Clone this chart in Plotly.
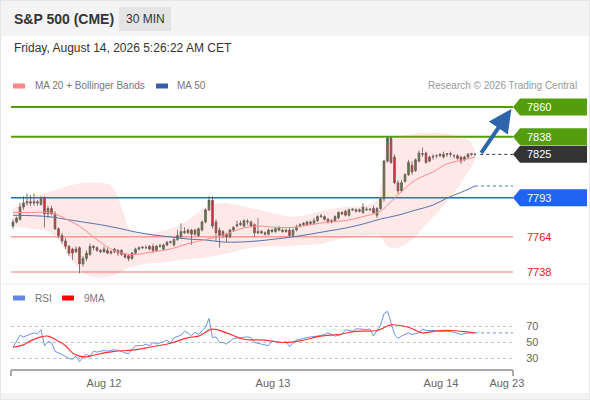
import plotly.graph_objects as go

W, H = 590, 400

# ---- 30 min bars (index 0 = first bar on screen) ----
opens = [
    7772, 7775, 7777, 7786, 7789, 7790, 7789, 7790, 7788, 7793,
    7781, 7785, 7781, 7770, 7765, 7761, 7757, 7755, 7753, 7756,
    7744, 7748, 7751, 7757, 7756, 7754, 7753, 7754, 7752, 7753,
    7752, 7754, 7751, 7750, 7748, 7752, 7755, 7756, 7756, 7755,
    7757, 7754, 7757, 7755, 7758, 7760, 7758, 7762, 7764, 7767,
    7767, 7769, 7766, 7765, 7769, 7775, 7784, 7791, 7775, 7769,
    7765, 7766, 7764, 7769, 7772, 7773, 7772, 7775, 7775, 7773,
    7767, 7768, 7767, 7766, 7769, 7768, 7771, 7769, 7768, 7769,
    7765, 7769, 7772, 7773, 7773, 7775, 7774, 7776, 7779, 7779,
    7777, 7775, 7776, 7778, 7782, 7783, 7780, 7784, 7784, 7783,
    7782, 7784, 7784, 7785, 7780, 7785, 7792, 7820, 7837, 7823,
    7804, 7798, 7805, 7810, 7817, 7813, 7820, 7825, 7826, 7823,
    7823, 7824, 7824, 7823, 7825, 7825, 7824, 7824, 7823, 7821,
    7823, 7825, 7825,
]
highs = [
    7777, 7779, 7789, 7794, 7796, 7795, 7796, 7791, 7794, 7794,
    7787, 7787, 7783, 7771, 7767, 7763, 7758, 7756, 7757, 7757,
    7750, 7754, 7759, 7758, 7757, 7755, 7757, 7756, 7754, 7756,
    7755, 7755, 7752, 7751, 7753, 7756, 7757, 7757, 7758, 7758,
    7759, 7758, 7759, 7759, 7761, 7761, 7763, 7769, 7774, 7771,
    7770, 7770, 7770, 7771, 7776, 7785, 7794, 7794, 7777, 7771,
    7769, 7767, 7770, 7772, 7776, 7776, 7777, 7777, 7776, 7774,
    7778, 7769, 7768, 7770, 7770, 7771, 7772, 7770, 7770, 7771,
    7770, 7773, 7774, 7775, 7776, 7776, 7778, 7780, 7781, 7780,
    7778, 7777, 7780, 7783, 7783, 7784, 7785, 7785, 7785, 7785,
    7789, 7786, 7785, 7787, 7786, 7793, 7821, 7838, 7838, 7825,
    7806, 7806, 7811, 7821, 7820, 7822, 7828, 7830, 7827, 7824,
    7825, 7825, 7826, 7827, 7826, 7827, 7825, 7825, 7824, 7824,
    7826, 7826, 7826,
]
lows = [
    7770, 7774, 7776, 7784, 7787, 7787, 7787, 7787, 7787, 7771,
    7778, 7780, 7769, 7763, 7759, 7755, 7750, 7747, 7752, 7737,
    7742, 7746, 7750, 7754, 7753, 7752, 7752, 7751, 7751, 7752,
    7750, 7750, 7748, 7746, 7747, 7751, 7754, 7755, 7755, 7754,
    7752, 7753, 7756, 7754, 7757, 7759, 7757, 7761, 7763, 7766,
    7766, 7758, 7765, 7764, 7768, 7774, 7783, 7770, 7761, 7756,
    7763, 7760, 7763, 7768, 7771, 7772, 7771, 7773, 7771, 7764,
    7766, 7766, 7765, 7765, 7767, 7767, 7768, 7767, 7767, 7764,
    7764, 7768, 7771, 7772, 7772, 7773, 7773, 7775, 7778, 7776,
    7774, 7774, 7775, 7777, 7780, 7779, 7779, 7783, 7782, 7782,
    7781, 7783, 7783, 7781, 7778, 7784, 7790, 7819, 7818, 7803,
    7796, 7797, 7804, 7809, 7810, 7812, 7819, 7823, 7818, 7819,
    7821, 7822, 7823, 7822, 7823, 7823, 7822, 7821, 7818, 7820,
    7822, 7824, 7824,
]
closes = [
    7775, 7778, 7786, 7789, 7790, 7789, 7790, 7789, 7793, 7781,
    7785, 7781, 7770, 7765, 7761, 7757, 7752, 7752, 7755, 7744,
    7748, 7752, 7757, 7756, 7754, 7753, 7755, 7752, 7753, 7755,
    7754, 7751, 7749, 7748, 7752, 7755, 7756, 7756.5, 7756, 7757,
    7754, 7757, 7757.5, 7758, 7760, 7760.5, 7762, 7765, 7768, 7768,
    7769, 7766, 7769, 7770, 7775, 7784, 7791, 7772, 7767, 7765,
    7768, 7764, 7769, 7771, 7773, 7774, 7776, 7775.5, 7772, 7767,
    7768, 7767, 7766, 7769, 7768, 7770, 7769, 7768, 7769, 7765,
    7769, 7771, 7773, 7774, 7775, 7774, 7776, 7779, 7779.5, 7777,
    7775, 7776, 7779, 7782, 7781, 7780, 7784, 7784.5, 7783, 7784,
    7786, 7784.5, 7784.5, 7782, 7785, 7792, 7820, 7837, 7819, 7804,
    7798, 7804, 7810, 7819, 7812, 7821, 7826, 7825.5, 7819, 7820,
    7823.5, 7824, 7825, 7825, 7825.5, 7825.5, 7824, 7822, 7820, 7823,
    7825, 7825.5, 7825,
]

# ---- indicators, read at sample bars ----
band_up_idx = [0, 5, 10, 15, 20, 25, 28, 30, 31.5, 33, 35, 40, 45, 50, 55, 60, 65, 70, 75, 80,
               85, 90, 95, 100, 104, 107, 109, 112, 117, 122, 127, 130, 132]
band_up = [7785, 7793, 7797, 7801, 7804, 7804, 7802, 7793, 7782, 7771, 7767, 7767, 7770, 7776,
           7786, 7789, 7787, 7784, 7781, 7779, 7781, 7784, 7786, 7787, 7791, 7832, 7837, 7839,
           7841, 7841, 7839, 7836, 7828]
band_lo_idx = [0, 5, 10, 13, 15, 18, 21, 25, 29, 33, 38, 43, 48, 53, 58, 63, 68, 73, 78, 83,
               88, 93, 98, 103, 105, 107, 110, 114, 118, 122, 127, 130, 132]
band_lo = [7772, 7770, 7768, 7762, 7753, 7743, 7736, 7734, 7736, 7741, 7744, 7745, 7747, 7748,
           7750, 7753, 7756, 7757, 7757, 7758, 7759, 7762, 7764, 7765, 7764, 7757, 7756, 7762,
           7773, 7784, 7800, 7812, 7821]

ma20_idx = [0, 5, 10, 13, 16, 19, 22, 25, 28, 31, 35, 40, 45, 50, 55, 60, 65, 70, 75, 80,
            85, 90, 95, 100, 105, 108, 110, 115, 120, 124, 129, 132]
ma20 = [7782, 7782, 7782, 7780, 7776, 7772, 7766, 7760, 7755, 7752, 7751, 7753, 7755, 7759,
        7762, 7765, 7770, 7772, 7771, 7771, 7773, 7775, 7776, 7779, 7783, 7790, 7795, 7806,
        7812, 7818, 7821, 7823]

ma50_idx = [0, 10, 15, 20, 25, 30, 35, 40, 45, 50, 55, 60, 65, 70, 75, 80, 85, 90, 95, 100,
            105, 110, 115, 120, 124, 129, 132]
ma50 = [7780, 7779, 7777, 7775, 7773, 7770.5, 7767.6, 7765.4, 7764, 7762.4, 7761.7, 7760.2,
        7760.2, 7761, 7762.4, 7764, 7766, 7768.3, 7770.5, 7773.5, 7777.2, 7780, 7783.8, 7787.5,
        7792.7, 7798, 7801.6]

rsi_idx = [0, 2, 3, 5, 6, 7, 8, 9, 10, 11,
           12, 14, 16, 17, 18, 19, 20, 21, 22, 23,
           24, 26, 27, 29, 31, 32, 33, 35, 37, 38,
           39, 40, 41, 43, 44, 45, 46, 48, 49, 50,
           51, 52, 53, 55, 56, 57, 58, 59, 60, 61,
           63, 65, 67, 68, 69, 71, 73, 74, 75, 77,
           78, 79, 81, 83, 85, 87, 89, 90, 91, 92,
           94, 95, 97, 98, 99, 101, 102, 103, 104, 105,
           106, 107, 108, 109, 110, 111, 113, 114, 116, 117,
           118, 120, 122, 124, 126, 128, 130, 132]
rsi = [44, 59, 57, 61, 62, 61, 66, 46, 51, 50,
       39, 35, 30, 29, 33, 26, 32, 35, 33, 39,
       38, 40, 39, 41, 39, 37, 36, 46, 46, 48,
       46, 50, 48, 51, 53, 49, 56, 59, 64, 62,
       58, 63, 60, 69, 80, 56, 57, 50, 50, 48,
       55, 56, 57, 56, 50, 48, 46, 52, 51, 50,
       51, 45, 53, 55, 57, 58, 60, 62, 60, 58,
       60, 66, 64, 67, 67, 66, 67, 58, 65, 71,
       86, 89, 75, 60, 55, 58, 62, 60, 62, 67,
       65, 65, 64, 64, 63, 60, 62, 62]

rsi_ma_idx = [0, 3, 5, 8, 10, 12, 15, 17, 19, 21, 23, 26, 29, 34, 39, 45, 50, 53, 57, 61,
              66, 72, 77, 82, 88, 93, 98, 104, 108, 113, 117, 121, 125, 130, 132]
rsi_ma = [44, 47, 52, 57, 58, 54, 46, 37, 33, 32, 34, 37, 39, 40.5, 44, 49, 56, 58, 66.6, 62,
          54, 53, 50, 52, 58, 60, 64, 65, 72, 69, 62, 64.5, 65, 63, 62]

# ---- key levels ----
levels = [7860, 7838, 7825, 7793, 7764, 7738]
level_kind = ["res", "res", "last", "pivot", "sup", "sup"]
rsi_levels = [30, 50, 70]

day_ticks = [26, 74.3, 122.3, 141.1]
day_labels = ["Aug 12", "Aug 13", "Aug 14", "Aug 23"]

# ---- layout geometry (pixels) ----
PLOT_L, PLOT_R = 11, 513
PRICE_TOP, PRICE_BOT = 92, 283
RSI_TOP, RSI_BOT = 290, 368
X_RANGE = [-0.57, 142.86]
P_RANGE = [7729.9, 7871.1]
R_RANGE = [18.1, 115.6]

FONT = "Liberation Sans, Arial, sans-serif"
GREEN = "rgb(84,158,14)"
BLUE = "rgb(30,100,240)"
DARK = "#333333"
RED_TXT = "rgb(235,20,20)"
RED_LINE = "rgb(255,160,160)"


def px(x):
    return x / W


def py(y):
    return 1 - y / H


fig = go.Figure()

# Bollinger band as one closed shape
fig.add_trace(go.Scatter(
    x=band_up_idx + band_lo_idx[::-1], y=band_up + band_lo[::-1],
    fill="toself", fillcolor="rgba(250,110,110,0.16)",
    line=dict(width=0, shape="spline", smoothing=0.8),
    mode="lines", hoverinfo="skip", showlegend=False,
))
fig.add_trace(go.Scatter(
    x=ma50_idx, y=ma50, mode="lines",
    line=dict(color="rgb(85,115,175)", width=1, shape="spline"),
    showlegend=False,
))
fig.add_trace(go.Scatter(
    x=[ma50_idx[-1], X_RANGE[1]], y=[ma50[-1], ma50[-1]], mode="lines",
    line=dict(color="rgb(85,115,175)", width=1, dash="dot"),
    showlegend=False,
))
fig.add_trace(go.Scatter(
    x=ma20_idx, y=ma20, mode="lines",
    line=dict(color="rgb(255,140,140)", width=1, shape="spline"),
    showlegend=False,
))

bars = list(range(len(closes)))
fig.add_trace(go.Candlestick(
    x=bars, open=opens, high=highs, low=lows, close=closes,
    increasing=dict(fillcolor="rgb(46,135,46)", line=dict(color="#555555", width=0.8)),
    decreasing=dict(fillcolor="rgb(215,35,35)", line=dict(color="#555555", width=0.8)),
    whiskerwidth=0, showlegend=False,
))
fig.add_trace(go.Scatter(
    x=[bars[-1] + 1.5, X_RANGE[1]], y=[closes[-1], closes[-1]], mode="lines",
    line=dict(color=DARK, width=1, dash="dot"), showlegend=False,
))

# RSI pane
fig.add_trace(go.Scatter(
    x=rsi_idx, y=rsi, mode="lines", yaxis="y2",
    line=dict(color="rgb(110,145,235)", width=1), showlegend=False,
))
fig.add_trace(go.Scatter(
    x=[rsi_idx[-1], X_RANGE[1]], y=[rsi[-1], rsi[-1]], mode="lines", yaxis="y2",
    line=dict(color="rgb(110,145,235)", width=1, dash="dot"), showlegend=False,
))
fig.add_trace(go.Scatter(
    x=rsi_ma_idx, y=rsi_ma, mode="lines", yaxis="y2",
    line=dict(color="rgb(255,50,50)", width=1.2, shape="spline"), showlegend=False,
))

shapes = []
annotations = []

# header band and frame
shapes.append(dict(type="rect", xref="paper", yref="paper", x0=0, x1=1, y0=py(36), y1=1,
                   fillcolor="#f4f4f4", line_width=0, layer="below"))
shapes.append(dict(type="rect", xref="paper", yref="paper", x0=px(119), x1=px(171),
                   y0=py(31), y1=py(7), fillcolor="#e4e4e4", line_width=0, layer="below"))
shapes.append(dict(type="rect", xref="paper", yref="paper", x0=0, x1=1, y0=0, y1=py(393),
                   fillcolor="#f3f3f3", line_width=0, layer="below"))
shapes.append(dict(type="rect", xref="paper", yref="paper", x0=0, x1=1, y0=0, y1=1,
                   line=dict(color="#e6e6e6", width=2)))
shapes.append(dict(type="line", xref="paper", yref="paper", x0=0, x1=1, y0=py(284), y1=py(284),
                   line=dict(color="#ececec", width=1)))

# x-axis line with end caps
for xc in (PLOT_L, PLOT_R):
    shapes.append(dict(type="line", xref="paper", yref="paper", x0=px(xc), x1=px(xc),
                       y0=py(370), y1=py(376), line=dict(color="#aaaaaa", width=2)))

# key levels and their right-hand labels
half = 8.5 * (P_RANGE[1] - P_RANGE[0]) / (PRICE_BOT - PRICE_TOP)
kind_color = {"res": GREEN, "last": DARK, "pivot": BLUE, "sup": RED_LINE}
for lv, kind in zip(levels, level_kind):
    if kind != "last":
        shapes.append(dict(type="line", xref="paper", yref="y", x0=px(PLOT_L), x1=px(PLOT_R),
                           y0=lv, y1=lv, layer="below",
                           line=dict(color=kind_color[kind], width=2 if kind == "res" else 1.5)))
    if kind == "sup":
        annotations.append(dict(xref="paper", yref="y", x=px(525), y=lv, text=str(lv),
                                showarrow=False, xanchor="left", yanchor="middle",
                                font=dict(family=FONT, size=11, color=RED_TXT)))
        continue
    x0, xt, x1 = px(PLOT_R), px(PLOT_R + 7), px(587)
    shapes.append(dict(type="path", xref="paper", yref="y",
                       path=f"M {x0},{lv} L {xt},{lv + half} L {x1},{lv + half} "
                            f"L {x1},{lv - half} L {xt},{lv - half} Z",
                       fillcolor=kind_color[kind], line_width=0))
    annotations.append(dict(xref="paper", yref="y", x=px(525), y=lv, text=str(lv),
                            showarrow=False, xanchor="left", yanchor="middle",
                            font=dict(family=FONT, size=11, color="white")))

# forecast arrow
annotations.append(dict(x=142.4, y=7858.5, ax=bars[-1] + 1.5, ay=closes[-1], xref="x", yref="y",
                        axref="x", ayref="y", showarrow=True, arrowhead=2, arrowsize=1.15,
                        arrowwidth=4, arrowcolor="rgb(45,100,170)", text=""))

# header texts
annotations += [
    dict(xref="paper", yref="paper", x=px(12), y=py(19), text="<b>S&P 500 (CME)</b>",
         showarrow=False, xanchor="left", yanchor="middle",
         font=dict(family=FONT, size=14, color="#333333")),
    dict(xref="paper", yref="paper", x=px(145), y=py(19), text="30 MIN",
         showarrow=False, xanchor="center", yanchor="middle",
         font=dict(family=FONT, size=12, color="#333333")),
    dict(xref="paper", yref="paper", x=px(12), y=py(48),
         text="Friday, August 14, 2026 5:26:22 AM CET",
         showarrow=False, xanchor="left", yanchor="middle",
         font=dict(family=FONT, size=12, color="#333333")),
    dict(xref="paper", yref="paper", x=px(33), y=py(86), text="MA 20 + Bollinger Bands",
         showarrow=False, xanchor="left", yanchor="middle",
         font=dict(family=FONT, size=10, color="#777777")),
    dict(xref="paper", yref="paper", x=px(175), y=py(86), text="MA 50",
         showarrow=False, xanchor="left", yanchor="middle",
         font=dict(family=FONT, size=10, color="#777777")),
    dict(xref="paper", yref="paper", x=px(579), y=py(86), text="Research © 2026 Trading Central",
         showarrow=False, xanchor="right", yanchor="middle",
         font=dict(family=FONT, size=10, color="#999999")),
    dict(xref="paper", yref="paper", x=px(33), y=py(298), text="RSI",
         showarrow=False, xanchor="left", yanchor="middle",
         font=dict(family=FONT, size=10, color="#777777")),
    dict(xref="paper", yref="paper", x=px(82), y=py(298), text="9MA",
         showarrow=False, xanchor="left", yanchor="middle",
         font=dict(family=FONT, size=10, color="#777777")),
]

# legend swatches
for x_sw, y_sw, col in [(13, 86, "rgb(255,135,135)"), (156, 86, "rgb(55,95,165)"),
                        (13, 298, "rgb(100,135,230)"), (62, 298, "rgb(255,0,0)")]:
    shapes.append(dict(type="rect", xref="paper", yref="paper", x0=px(x_sw), x1=px(x_sw + 12),
                       y0=py(y_sw + 2.5), y1=py(y_sw - 2.5), fillcolor=col, line_width=0))

fig.update_layout(
    width=W, height=H, autosize=False,
    margin=dict(l=0, r=0, t=0, b=0, pad=0),
    paper_bgcolor="white", plot_bgcolor="white",
    showlegend=False,
    font=dict(family=FONT),
    xaxis=dict(
        domain=[px(PLOT_L), px(PLOT_R)], range=X_RANGE, automargin=False,
        anchor="free", position=py(370),
        showline=True, linecolor="#aaaaaa", linewidth=2,
        showgrid=False, zeroline=False, ticks="", ticklabelstandoff=3,
        tickvals=day_ticks, ticktext=day_labels,
        tickfont=dict(family=FONT, size=11, color="#666666"),
        rangeslider=dict(visible=False),
    ),
    yaxis=dict(
        domain=[py(PRICE_BOT), py(PRICE_TOP)], range=P_RANGE, automargin=False,
        showgrid=False, zeroline=False, showticklabels=False, showline=False,
    ),
    yaxis2=dict(
        domain=[py(RSI_BOT), py(RSI_TOP)], range=R_RANGE, anchor="x", automargin=False,
        side="right", tickvals=rsi_levels,
        showgrid=True, gridcolor="#c4c4c4", griddash="dot", gridwidth=1,
        zeroline=False, showline=False,
        ticks="outside", ticklen=10, tickcolor="rgba(0,0,0,0)",
        tickfont=dict(family=FONT, size=11, color="#666666"),
    ),
    shapes=shapes,
    annotations=annotations,
)

# the page body has a default 8px margin; drop it so the chart sits at the window corner
page_fix = (
    "document.body.style.margin='0';"
    "document.body.style.overflow='hidden';"
    "document.documentElement.style.overflow='hidden';"
)
fig.write_html("out.html", config={"displayModeBar": False, "responsive": False},
               post_script=page_fix)
